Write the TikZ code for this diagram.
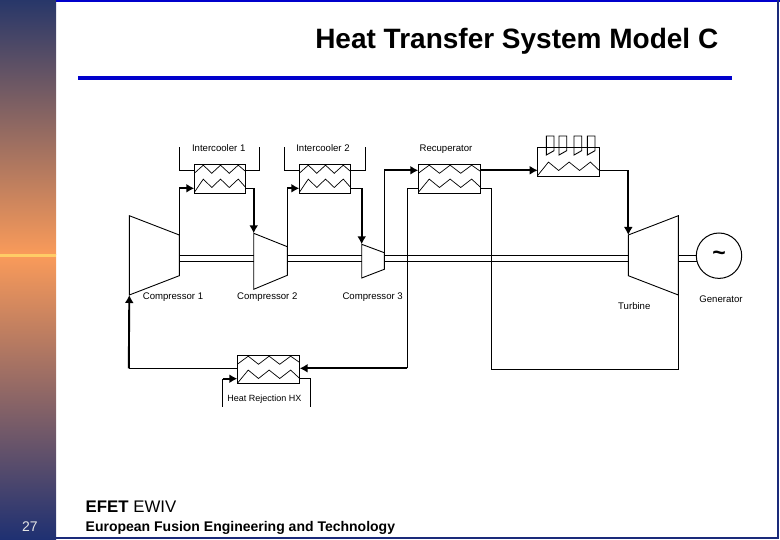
\documentclass[tikz,border=0pt]{standalone}
\usepackage{fontspec}
\setmainfont{Liberation Sans}
\usetikzlibrary{arrows.meta}
\usetikzlibrary{calc}
\definecolor{slideblue}{HTML}{0000CC}
\definecolor{navy}{HTML}{1A2A7A}
\definecolor{sidetop}{HTML}{283769}
\definecolor{sidemid}{HTML}{FA9B5A}
\definecolor{sidebot}{HTML}{1E3072}
\definecolor{sideline}{HTML}{FFCC66}
\tikzset{>={Latex[length=8pt,width=9pt]}}
\tikzset{
    hxbox/.style={draw, fill=white, line width=1pt, inner sep=0pt, outer sep=0pt, minimum height=#1},
    hxbox/.default=29pt,
    flow/.style={->, line width=1.9pt},
    pipe/.style={line width=1pt},
    machine/.style={line width=0.9pt},
    shaft/.style={double, double distance=5pt, line width=1pt},
    tag/.style={inner sep=0pt, anchor=base, font=\fontsize{9.6}{11}\selectfont},
}
\newcommand{\upcoil}[2]{\draw[line width=0.7pt, shift={(#1.north west)}, x=#2pt, y=-29pt] (0,0.31) -- (0.175,0.03) -- (0.34,0.31) -- (0.51,0.03) -- (0.68,0.31) -- (0.855,0.03) -- (1,0.25);}
\newcommand{\lowcoil}[2]{\draw[line width=0.7pt, shift={(#1.north west)}, x=#2pt, y=-29pt] (0,0.97) -- (0.175,0.51) -- (0.34,0.8) -- (0.51,0.51) -- (0.68,0.8) -- (0.855,0.51) -- (1,0.8);}

\begin{document}
\begin{tikzpicture}[x=1pt, y=-1pt]
    \useasboundingbox (0, 0) rectangle (780, 540);
    \shade[top color=sidetop, bottom color=sidemid] (0, 0) rectangle (56, 255);
    \shade[top color=sidemid, bottom color=sidebot] (0, 255) rectangle (56, 540);
    \fill[sideline] (0, 253.8) rectangle (56, 256.6);
    \fill[slideblue] (56, 0) rectangle (780, 2);
    \fill[navy] (777.3, 0) rectangle (779.3, 538.7);
    \fill[navy] (56, 536.7) rectangle (779.3, 538.7);
    \fill[slideblue] (78, 76) rectangle (732, 80);

    \node[anchor=east, inner sep=0pt, font=\fontsize{28}{30}\selectfont\bfseries] (title) at (718.5, 41) {Heat Transfer System Model C};

    \node[hxbox, minimum width=51.4pt] (cooler1) at (220, 178.8) {};
    \node[hxbox, minimum width=51.4pt] (cooler2) at (325, 178.8) {};
    \node[hxbox, minimum width=62.4pt] (recup) at (449.5, 178.8) {};
    \node[hxbox, minimum width=61.6pt] (heater) at (568.5, 161.8) {};
    \node[hxbox, minimum width=62.4pt, minimum height=28pt] (rejecthx) at (268.5, 369.3) {};

    \upcoil{cooler1}{51.4}
    \lowcoil{cooler1}{51.4}
    \upcoil{cooler2}{51.4}
    \lowcoil{cooler2}{51.4}
    \upcoil{recup}{62.4}
    \lowcoil{recup}{62.4}
    \lowcoil{heater}{61.6}
    \upcoil{rejecthx}{62.4}
    \lowcoil{rejecthx}{62.4}

    \foreach \x in {546.3, 559, 574, 587.3} {
        \draw[line width=0.9pt] (\x, 155) -- (\x, 136) -- ++(7.7, 0) -- ++(0, 14.7) -- cycle;
    }

    \coordinate (comp1a) at (129.3, 215.7);
    \coordinate (comp1b) at (179.3, 235);
    \coordinate (comp1c) at (179.3, 275.7);
    \coordinate (comp1d) at (129.3, 295);
    \coordinate (comp2a) at (253.7, 233.3);
    \coordinate (comp2b) at (287.3, 246.7);
    \coordinate (comp2c) at (287.3, 275.3);
    \coordinate (comp2d) at (253.7, 289.3);
    \coordinate (comp3a) at (361.7, 244.3);
    \coordinate (comp3b) at (384.3, 252.7);
    \coordinate (comp3c) at (384.3, 269.3);
    \coordinate (comp3d) at (361.7, 278);
    \coordinate (turba) at (628.3, 235);
    \coordinate (turbb) at (678.3, 215.7);
    \coordinate (turbc) at (678.3, 295);
    \coordinate (turbd) at (628.3, 275.7);

    \foreach \a/\b in {179.3/253.7, 287.3/361.7, 384.3/628.3, 678.3/697} {
        \draw[shaft] (\a, 258.3) -- (\b, 258.3);
    }

    \draw[machine] (comp1a) -- (comp1b) -- (comp1c) -- (comp1d) -- cycle;
    \draw[machine] (comp2a) -- (comp2b) -- (comp2c) -- (comp2d) -- cycle;
    \draw[machine] (comp3a) -- (comp3b) -- (comp3c) -- (comp3d) -- cycle;
    \draw[machine] (turba) -- (turbb) -- (turbc) -- (turbd) -- cycle;

    \node[draw, circle, fill=white, line width=1pt, inner sep=0pt, outer sep=0pt, minimum size=45.4pt, font=\fontsize{23}{24}\selectfont\bfseries] (gen) at (719, 255.7) {\raisebox{-3pt}{\textasciitilde}};

    \coordinate (cooler1tl) at (179.3, 147.3);
    \coordinate (cooler1tr) at (259.7, 147.3);
    \coordinate (cooler2tl) at (284.3, 147.3);
    \coordinate (cooler2tr) at (365.3, 147.3);
    \coordinate (rejectbl) at (222.7, 406.7);
    \coordinate (rejectbr) at (310.7, 406.7);

    \draw[pipe] (cooler1tl) |- (194.3, 170.3);
    \draw[pipe] (cooler1tr) |- (245.7, 170.3);
    \draw[pipe] (cooler2tl) |- (299.3, 170.3);
    \draw[pipe] (cooler2tr) |- (350.7, 170.3);

    \draw[pipe] (comp1b) -- (179.3, 188.3);
    \draw[flow] (179.3, 188.3) -- (194.3, 188.3);
    \draw[pipe] (245.7, 188.3) -- (253.7, 188.3);
    \draw[flow] (253.7, 188.3) -- (comp2a);
    \draw[pipe] (comp2b) -- (287.3, 188.3);
    \draw[flow] (287.3, 188.3) -- (299.3, 188.3);
    \draw[pipe] (350.7, 188.3) -- (361.7, 188.3);
    \draw[flow] (361.7, 188.3) -- (comp3a);
    \draw[pipe] (comp3b) -- (384.3, 170.3);
    \draw[flow] (384.3, 170.3) -- (418.3, 170.3);
    \draw[flow] (480.7, 170.3) -- (537.7, 170.3);
    \draw[pipe] (599.3, 170.3) -- (628.3, 170.3);
    \draw[flow] (628.3, 170.3) -- (turba);
    \draw[pipe] (turbc) |- (491.7, 369.3) -- (491.7, 188.3) -- (480.7, 188.3);
    \draw[pipe] (418.3, 188.3) -- (407.3, 188.3) -- (407.3, 368.3);
    \draw[flow] (407.3, 368.3) -- (299.7, 368.3);
    \draw[pipe] (237.3, 368.3) -- (128.8, 368.3);
    \draw[flow] (128.8, 368.3) -- (comp1d);
    \draw[pipe] (rejectbl) -- (222.7, 378.7);
    \draw[flow] (222.7, 378.7) -- (237.3, 378.7);
    \draw[pipe] (rejectbr) |- (299.7, 378.7);

    \node[tag] (lcooler1) at (218.7, 152) {Intercooler 1};
    \node[tag] (lcooler2) at (323, 152) {Intercooler 2};
    \node[tag] (lrecup) at (446, 152) {Recuperator};
    \node[tag] (lcomp1) at (173, 300) {Compressor 1};
    \node[tag] (lcomp2) at (267.3, 300) {Compressor 2};
    \node[tag] (lcomp3) at (372.7, 300) {Compressor 3};
    \node[tag] (lturb) at (634.3, 310) {Turbine};
    \node[tag] (lgen) at (721, 303) {Generator};
    \node[tag, font=\fontsize{9}{10}\selectfont] (lreject) at (264.3, 401.5) {Heat Rejection HX};

    \node[anchor=west, inner sep=0pt, font=\fontsize{16.8}{18}\selectfont] (efet) at (85.5, 507) {\textbf{EFET} EWIV};
    \node[anchor=west, inner sep=0pt, font=\fontsize{14}{16}\selectfont\bfseries] (efetname) at (85.5, 527.5) {European Fusion Engineering and Technology};
    \node[inner sep=0pt, text=black!10, font=\fontsize{14}{16}\selectfont] (pageno) at (30, 526.5) {27};
\end{tikzpicture}
\end{document}
